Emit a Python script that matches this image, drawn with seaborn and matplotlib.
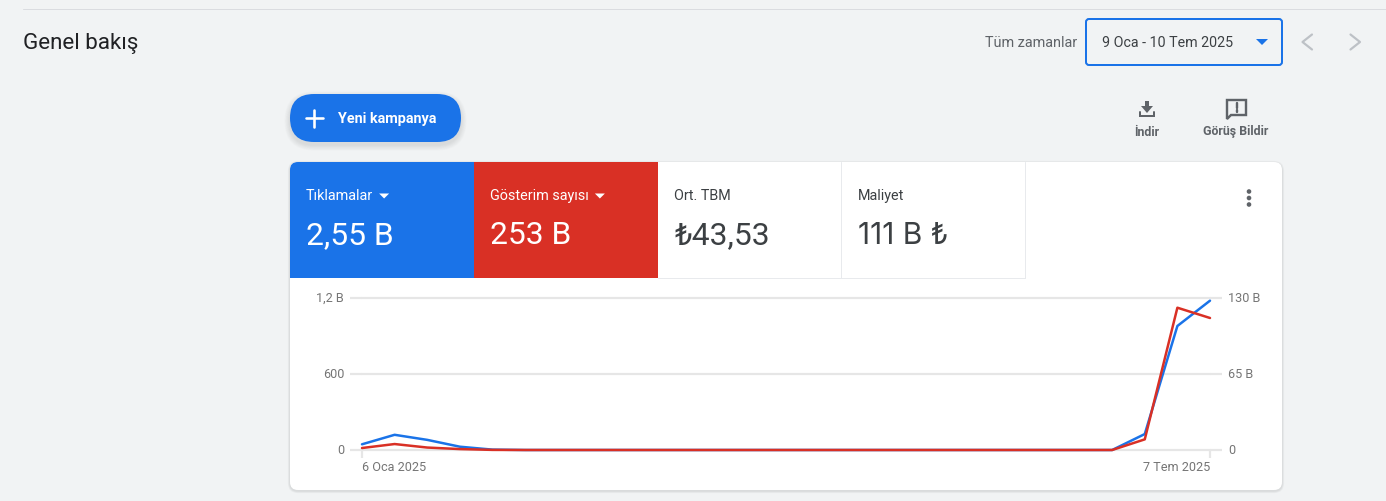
import pandas as pd
import matplotlib.pyplot as plt
import seaborn as sns
from matplotlib.patches import FancyBboxPatch, Rectangle, Polygon, Circle
from matplotlib.transforms import ScaledTranslation

# Data
weeks = pd.date_range("2025-01-06", periods=27, freq="7D")
clicks = [45, 120, 80, 26, 3, 0, 0, 0, 0, 0, 0, 0, 0, 0, 0, 0, 0, 0, 0, 0, 0, 0, 0, 0, 126, 979, 1179]
impressions = [1.7, 5.1, 2.1, 0.8, 0.1, 0, 0, 0, 0, 0, 0, 0, 0, 0, 0, 0, 0, 0, 0, 0, 0, 0, 0, 0, 9.1, 121.7, 112.9]
left_ticks = [0, 600, 1200]
left_labels = ["0", "600", "1,2 B"]
right_ticks = [0, 65, 130]
right_labels = ["0", "65 B", "130 B"]
x_labels = ["6 Oca 2025", "7 Tem 2025"]
metric_names = ["Tıklamalar", "Gösterim sayısı", "Ort. TBM", "Maliyet"]
metric_values = ["2,55 B", "253 B", "₺43,53", "111 B ₺"]

W, H = 1386, 501
BG = "#f1f3f4"
BLUE = "#1a73e8"
RED = "#d93025"
GRID = "#e6e6e6"
GREY = "#5f6368"
DARK = "#3c4043"
TICK = "#757575"

sns.set_theme(style="white")
plt.rcParams["font.family"] = ["Roboto", "DejaVu Sans"]


def px(size):
    return size * 0.72


fig = plt.figure(figsize=(W / 100, H / 100), dpi=100, facecolor=BG)

# page layer, in screen pixels
ui = fig.add_axes([0, 0, 1, 1], zorder=0)
ui.set_xlim(0, W)
ui.set_ylim(H, 0)
ui.axis("off")


def rounded(x0, y0, x1, y1, r, **kw):
    p = FancyBboxPatch((x0 + r, y0 + r), x1 - x0 - 2 * r, y1 - y0 - 2 * r,
                       boxstyle=f"round,pad={r},rounding_size={r}", **kw)
    ui.add_patch(p)
    return p


def shadow(x0, y0, x1, y1, r, dy=1, spread=4, alpha=0.035):
    for i in range(spread, 0, -1):
        rounded(x0 - i * 0.7, y0 - i * 0.7 + dy, x1 + i * 0.7, y1 + i * 0.7 + dy, r + i * 0.7,
                fc="black", ec="none", alpha=alpha)


def label(x, y, s, size, color, **kw):
    kw.setdefault("va", "center")
    return ui.text(x, y, s, fontsize=px(size), color=color, **kw)


def caret(cx, cy, color, w=5, h=5):
    ui.add_patch(Polygon([(cx - w, cy - h / 2), (cx + w, cy - h / 2), (cx, cy + h / 2)], fc=color, ec="none"))


# header
ui.plot([23, W], [9, 9], color="#dadce0", lw=px(1))
label(23, 43.5, "Genel bakış", 22.4, "#202124")
label(1077, 43, "Tüm zamanlar", 14.4, GREY, ha="right")
rounded(1086, 19, 1282, 65, 3, fc=BG, ec=BLUE, lw=px(2))
label(1102, 43, "9 Oca - 10 Tem 2025", 14.3, DARK)
caret(1262, 42, BLUE, w=6, h=6)
ui.plot([1312, 1302.5, 1312], [34.5, 42, 49.5], color="#bdc1c6", lw=px(2.2))
ui.plot([1350.5, 1360, 1350.5], [34.5, 42, 49.5], color="#bdc1c6", lw=px(2.2))

# new campaign button
shadow(290, 94, 461, 142, 24, dy=3, spread=8, alpha=0.012)
rounded(290, 94, 461, 142, 24, fc=BLUE, ec="none")
ui.plot([305.5, 322.5], [118, 118], color="white", lw=px(2.6))
ui.plot([314, 314], [109.5, 126.5], color="white", lw=px(2.6))
label(338, 118.5, "Yeni kampanya", 14.4, "white", fontweight="bold")

# download and feedback
ui.add_patch(Polygon([(1145, 101), (1149, 101), (1149, 106), (1153, 106), (1147, 113), (1141, 106), (1145, 106)],
                     fc=GREY, ec="none"))
ui.plot([1140, 1140, 1154, 1154], [112, 116, 116, 112], color=GREY, lw=px(2), solid_joinstyle="miter")
label(1147, 132, "İndir", 12.4, GREY, ha="center", fontweight="bold")
ui.add_patch(Polygon([(1227, 100), (1246, 100), (1246, 115), (1231, 115), (1227, 119)],
                     fc="none", ec=GREY, lw=px(2.4)))
ui.plot([1236.5, 1236.5], [103, 108], color=GREY, lw=px(2.4))
ui.plot([1236.5, 1236.5], [109.5, 112], color=GREY, lw=px(2.4))
label(1236, 132, "Görüş Bildir", 12.4, GREY, ha="center", fontweight="bold")

# card with metric tabs
shadow(290, 162, 1282, 490, 8, dy=1, spread=3, alpha=0.03)
card = rounded(290, 162, 1282, 490, 8, fc="white", ec="none")
tab_edges = [290, 474, 658, 842, 1026]
tab_colors = [BLUE, RED, "white", "white"]
for i, name in enumerate(metric_names):
    x0, x1 = tab_edges[i], tab_edges[i + 1]
    tab = Rectangle((x0, 162), x1 - x0, 116, fc=tab_colors[i], ec="none")
    ui.add_patch(tab)
    tab.set_clip_path(card)
    filled = i < 2
    text_color = "white" if filled else DARK
    t = label(x0 + 16, 196, name, 14.4, text_color)
    # the narrow 1 of the reference needs another family on the last value
    if i == 3:
        label(x0 + 16, 236, metric_values[i], 30, text_color, family=["Inter", "DejaVu Sans"])
    else:
        label(x0 + 16, 236, metric_values[i], 31.8, text_color)
    if filled:
        fig.canvas.draw()
        box = t.get_window_extent()
        caret(box.x1 + 11, 196, "white", w=5, h=5)
    else:
        ui.plot([x1 - 1, x1 - 1], [162, 278], color="#e8eaed", lw=px(1))
ui.plot([658, 1025], [277.5, 277.5], color="#e8eaed", lw=px(1))
for dot_y in [191.5, 198, 204.5]:
    ui.add_patch(Circle((1249, dot_y), 2.3, fc=GREY, ec="none"))

# chart
ax = fig.add_axes([362 / W, 1 - 450 / H, 848 / W, 152 / H], zorder=2, facecolor="none")
sns.lineplot(x=weeks, y=clicks, color=BLUE, ax=ax, linewidth=px(2.5), clip_on=False, zorder=3)
ax.set(xlabel=None, ylabel=None)
ax.set_ylim(0, 1200)
ax.set_xlim(weeks[0], weeks[-1])
ax.set_yticks(left_ticks, left_labels)
ax.set_xticks([weeks[0], weeks[-1]], x_labels)
ax.grid(axis="y", color=GRID, lw=px(2.2), clip_on=False)
ax.set_axisbelow(True)
ax.tick_params(axis="y", length=px(12), width=px(2.2), color=GRID, pad=px(6), labelsize=px(12.6), labelcolor=TICK)
ax.tick_params(axis="x", length=px(8), width=px(2.2), color=GRID, pad=px(3), labelsize=px(12.6), labelcolor=TICK, bottom=True)
ax.get_xticklabels()[0].set_ha("left")
ax.get_xticklabels()[1].set_ha("right")

ax2 = ax.twinx()
sns.lineplot(x=weeks, y=impressions, color=RED, ax=ax2, linewidth=px(2.5), clip_on=False, zorder=4)
ax2.set(xlabel=None, ylabel=None)
ax2.set_ylim(0, 130)
ax2.set_yticks(right_ticks, right_labels)
ax2.tick_params(axis="y", length=px(12), width=px(2.2), color=GRID, pad=px(6), labelsize=px(12.6), labelcolor=TICK, right=True)
ax2.grid(False)
for a in (ax, ax2):
    sns.despine(ax=a, left=True, right=True, top=True, bottom=True)

# y labels sit one pixel higher in the reference
nudge = ScaledTranslation(0, 1 / 100, fig.dpi_scale_trans)
for tick_label in ax.get_yticklabels() + ax2.get_yticklabels():
    tick_label.set_transform(tick_label.get_transform() + nudge)

fig.savefig("out.png", dpi=100, facecolor=BG)
